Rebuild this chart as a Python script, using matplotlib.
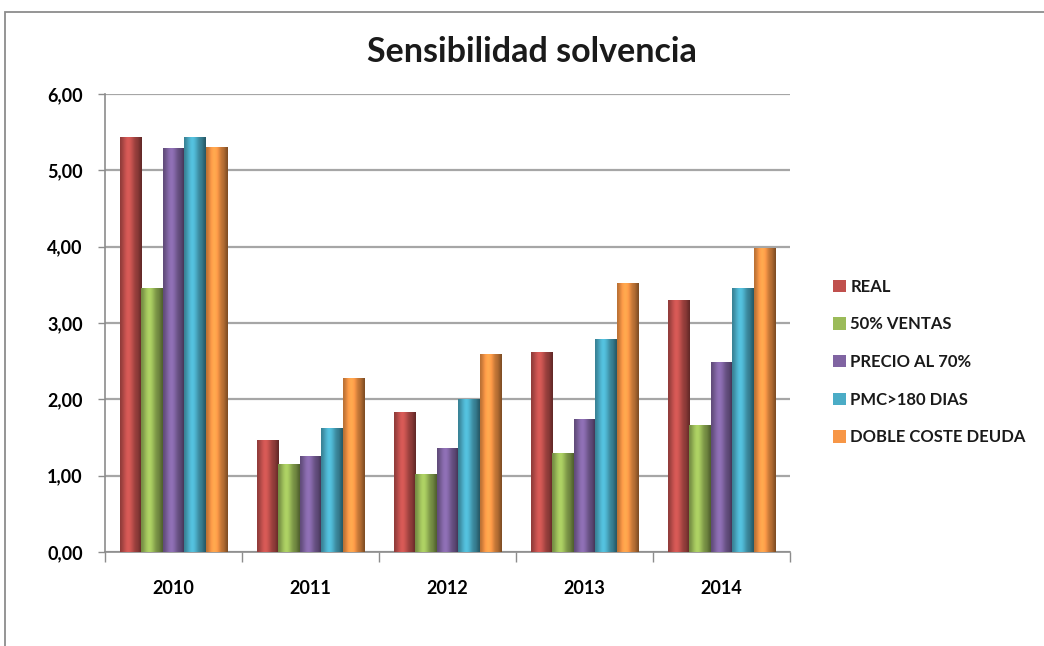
import numpy as np
import matplotlib
matplotlib.use("Agg")
import matplotlib.pyplot as plt
from matplotlib.patches import Rectangle, Patch
from matplotlib.colors import to_rgb

years = ["2010", "2011", "2012", "2013", "2014"]
series_names = ["REAL", "50% VENTAS", "PRECIO AL 70%", "PMC>180 DIAS", "DOBLE COSTE DEUDA"]
real = [5.43, 1.46, 1.83, 2.62, 3.29]
ventas50 = [3.45, 1.14, 1.01, 1.29, 1.66]
precio70 = [5.28, 1.25, 1.36, 1.74, 2.48]
pmc180 = [5.43, 1.62, 2.00, 2.78, 3.45]
doble_deuda = [5.30, 2.27, 2.59, 3.52, 3.97]
yticks = [0, 1, 2, 3, 4, 5, 6]
ytick_labels = ["0,00", "1,00", "2,00", "3,00", "4,00", "5,00", "6,00"]

colors = ["#C0504D", "#9BBB59", "#8064A2", "#4BACC6", "#F79646"]
all_series = [real, ventas50, precio70, pmc180, doble_deuda]

plt.rcParams['font.family'] = ['Lato', 'DejaVu Sans']
plt.rcParams['font.weight'] = 'bold'
plt.rcParams['text.color'] = '#1A1A1A'

W, H = 1044, 646
fig = plt.figure(figsize=(W / 100, H / 100), dpi=100)
fig.patch.set_facecolor("white")

# outer chart frame
fig.add_artist(Rectangle((5 / W, -0.05), 1.2, 1 - 12 / H + 0.05, transform=fig.transFigure,
                         fill=False, edgecolor="#8C8C8C", linewidth=1.3))

left, right = 105, 790
y0, y6 = 552, 94
ax = fig.add_axes([left / W, 1 - y0 / H, (right - left) / W, (y0 - y6) / H])
ax.set_facecolor("none")

x = np.arange(len(years))
bw = 0.157
offsets = (np.arange(5) - 2) * bw

def shade(ax, patch, color):
    bx, by = patch.get_x(), patch.get_y()
    w, h = patch.get_width(), patch.get_height()
    t = np.linspace(0, 1, 40)
    f = 0.68 + 0.45 * np.exp(-((t - 0.38) / 0.28) ** 2)
    f = np.where(t > 0.82, f * (1 - (t - 0.82) * 1.4), f)
    base = np.array(to_rgb(color))
    img = np.clip(base[None, :] * f[:, None], 0, 1)[None, :, :]
    ax.imshow(img, extent=[bx, bx + w, by, by + h], aspect='auto',
              interpolation='bilinear', zorder=3)

for i, (vals, c, name) in enumerate(zip(all_series, colors, series_names)):
    bars = ax.bar(x + offsets[i], vals, width=bw, color=c, zorder=2, label=name,
                  edgecolor="none")
    for p in bars:
        shade(ax, p, c)

ax.set_xlim(-0.5, len(years) - 0.5)
ax.set_ylim(0, 6)
ax.set_yticks(yticks)
ax.set_yticklabels(ytick_labels, fontsize=13, fontweight='bold')
ax.yaxis.grid(True, color="#A6A6A6", linewidth=1.6, zorder=0)
ax.set_axisbelow(True)

ax.set_xticks(x)
ax.set_xticklabels(years, fontsize=13, fontweight='bold')
ax.set_xticks(np.arange(len(years) + 1) - 0.5, minor=True)
ax.tick_params(axis='x', which='major', length=0, pad=20)
ax.tick_params(axis='x', which='minor', length=7, color="#8C8C8C", width=1)
ax.tick_params(axis='y', length=5, color="#8C8C8C", width=1, pad=11)

for s in ["top", "right"]:
    ax.spines[s].set_visible(False)
ax.spines["left"].set_color("#8C8C8C")
ax.spines["bottom"].set_color("#8C8C8C")
ax.spines["left"].set_linewidth(1.2)
ax.spines["bottom"].set_linewidth(1.2)

fig.text(532 / W, 1 - 52 / H, "Sensibilidad solvencia", ha='center', va='center',
         fontsize=24.5, fontweight='bold')

handles = [Patch(facecolor=c, edgecolor='none') for c in colors]
fig.legend(handles, series_names, loc='center left', bbox_to_anchor=(818 / W, 1 - 362 / H),
           frameon=False, handlelength=0.75, handleheight=0.75,
           handletextpad=0.3, labelspacing=1.3, prop={'weight': 'bold', 'size': 12})

fig.savefig("out.png", dpi=100)
